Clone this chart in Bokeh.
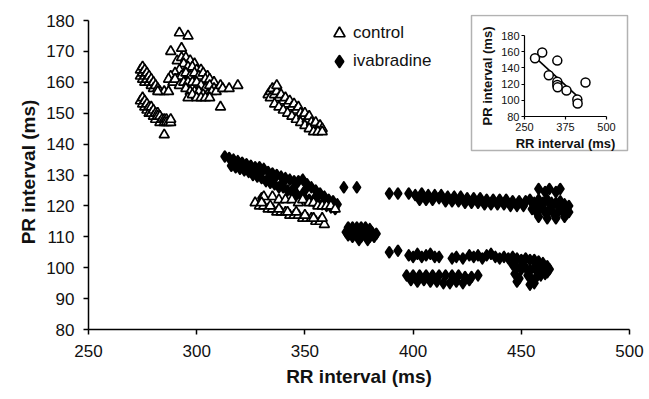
from bokeh.plotting import figure
from bokeh.models import Range1d, LinearAxis, FixedTicker, Legend, LegendItem, BoxAnnotation
from bokeh.embed import file_html
from bokeh.resources import INLINE

# ---------------- data (RR interval ms, PR interval ms) ----------------
control_a = [(274,164),(274,162),(275,165),(275,163),(275,161),(276,164),(276,162),(276,160),
             (277,163),(277,161),(278,162),(278,160),(279,161),(279,159),(280,160),(280,158),
             (281,159),(282,158),(283,157),(285,157),(287,157),(282,157)]
control_b = [(274,154),(275,155),(275,153),(276,154),(276,152),(277,153),(277,151),(278,152),
             (278,150),(279,152),(279,150),(280,151),(280,149),(281,150),(281,148),(282,150),
             (282,149),(283,149),(283,147),(284,148),(285,148),(285,147),(286,148),(286,147),
             (287,147),(288,147),(288,148),(285,143)]
control_c = [(292,176),(296,175),(288,170),(293,171),
             (291,167),(293,168),(295,168),(297,167),(299,166),(294,166),(296,165),(298,165),
             (300,164),(302,164),(292,164),(290,163),(288,162),(287,161),(289,160),(291,161),
             (293,162),(295,163),(297,162),(299,163),(301,162),(303,163),(305,162),(304,161),
             (306,161),(308,160),(290,161),(292,159),(294,160),(296,160),(298,160),(300,160),
             (302,159),(304,158),(306,159),(308,158),(310,158),(295,158),(297,157),(299,157),
             (301,157),(303,156),(305,156),(307,157),(309,157),(311,159),(296,155),(298,156),
             (300,155),(302,155),(304,155),(306,155),(312,158),(315,158),(319,159),(311,152)]
control_d = [(333,156),(334,157),(335,158),(334,155),(336,156),(337,157),(338,155),(336,153),
             (339,156),(340,154),(338,152),(341,155),(342,153),(340,151),(343,154),(344,152),
             (342,150),(345,153),(346,151),(344,149),(347,152),(348,150),(346,148),(349,149),
             (350,150),(348,147),(351,148),(352,149),(350,146),(353,147),(354,146),(352,145),
             (355,147),(356,145),(354,144),(357,146),(358,145),(356,144),(358,144),(337,159)]
control_e = [(335,123),(338,122),(341,122),(344,122),(347,121),(349,122),(352,121),(354,121),
             (356,120),(358,120),(360,120),(362,120),(364,119),
             (327,121),(329,120),(331,123),(331,120),(333,119),(335,119),(337,118),(339,118),
             (341,118),(343,117),(345,117),(347,117),(349,116),(351,116),(353,116),(355,115),
             (357,115),(359,114),(330,121),(334,120),(338,119),(342,118),(346,118),(350,117),
             (354,116),(358,116)]

ivabradine_a = [(313,136),(315,135.5),(317,135),(319,134.5),(321,134),(323,133.5),(325,133),
                (327,132.5),(329,132.5),(331,132),(333,131),(335,130.5),(337,130),(339,129.5),
                (341,129),(343,128.5),(345,128),(347,128),(349,128.5),(351,127),(353,126),
                (355,125),(357,124),(359,123),(361,122),(363,121.5),(365,120.5),
                (316,133),(318,132.5),(320,132),(322,131.5),(324,131),(326,130),(328,129.5),
                (330,129),(332,128),(334,127.5),(336,127),(338,126),(340,126),(342,125),
                (344,124.5),(346,124),(348,123),(350,122.5),(352,122),(354,121.5),(356,121),
                (358,120.5),(360,120),(362,119.5),(364,119),
                (320,133.5),(325,132),(330,131),(335,129),(340,127.5),(345,126),(350,125),
                (355,123),(360,121.5),(330,122.5)]
ivabradine_b = [(368,126),(374,126),
                (370,113),(372,113),(374,113),(376,113),(378,113),(380,112.5),(369,111.5),
                (371,111.5),(373,112),(375,112),(377,112),(379,111.5),(381,111.5),(383,111),
                (370,110.5),(372,110),(374,110.5),(376,110),(378,110.5),(380,110),(382,110),
                (375,109),(379,109)]
ivabradine_c = [(389,124),(393,124),
                (398,124),(401,123.5),(404,124),(407,123.5),(410,123.5),(413,123.5),(416,123),
                (419,123),(422,123),(425,122.5),(428,122.5),(431,122.5),(434,122),(437,122),
                (440,122),(443,122),(446,121.5),(449,121.5),(452,121.5),
                (403,122),(406,122),(409,122),(412,122.5),(415,121.5),(418,121.5),(421,121.5),
                (424,121),(427,121),(430,121),(433,120.5),(436,120.5),(439,120.5),(442,120.5),
                (445,120),(448,120),(451,120),
                (454,122),(456,121),(458,122),(460,121),(462,122),(464,121),(466,121),
                (468,121.5),(470,120.5),(472,120),(455,119),(457,118),(459,119.5),(461,118),
                (463,119),(465,117.5),(467,118),(469,118.5),(471,117.5),(458,116.5),(462,116),
                (466,116),(470,116.5),(472,118),(456,120),(460,120.5),(464,120),(468,120),
                (458,125.5),(461,124.5),(463,125.5),(466,124.5),(468,125.5)]
ivabradine_d = [(389,105),(393,105.5),
                (398,104),(400,103.5),(402,104.5),(404,103.5),(406,104),(408,104.5),(410,103.5),
                (412,103.5),(418,103),(420,103.5),(423,103),(426,104),(428,103.5),(430,104),
                (432,103),(434,104),(436,104.5),(438,103.5),(440,103),(442,103.5),(444,103),
                (446,103.5),(448,103),(450,102.5),(452,103),(454,102.5),(456,102.5),(458,102),
                (460,101.5),(462,100.5),(463,99.5),
                (446,101),(448,100),(450,99.5),(452,100),(454,99),(456,100),(458,99.5),(460,99),
                (462,98.5),(447,98),(449,96.5),(453,97.5),(455,96),(457,97),(459,97.5),(461,98),
                (448,95.5),(454,94.5),(456,95),(450,100.5),(458,101),(460,100.5)]
ivabradine_e = [(397,97.5),(400,97.5),(403,97.5),(406,97.5),(409,97.5),(412,97.5),(415,97.5),
                (418,97.5),(421,97.5),(424,97),(427,97),(430,97.5),
                (399,96),(402,95.5),(405,96),(408,95.5),(411,95.5),(414,95),(417,95),(420,95.5),
                (423,95),(426,96)]

inset_rr = [282, 304, 324, 350, 350, 350, 351, 378, 411, 412, 436]
inset_pr = [152, 159, 131, 149, 123, 119, 116, 112, 101, 96, 122]
fit_rr = [280, 425]
fit_pr = [154, 100]

x_ticks = [250, 300, 350, 400, 450, 500]
y_ticks = [80, 90, 100, 110, 120, 130, 140, 150, 160, 170, 180]
inset_x_ticks = [250, 375, 500]
inset_y_ticks = [80, 100, 120, 140, 160, 180]

control = control_a + control_b + control_c + control_d + control_e
ivabradine = ivabradine_a + ivabradine_b + ivabradine_c + ivabradine_d + ivabradine_e
control_rr = [p[0] for p in control]
control_pr = [p[1] for p in control]
ivab_rr = [p[0] for p in ivabradine]
ivab_pr = [p[1] for p in ivabradine]

# ---------------- layout (pixels) ----------------
W, H = 649, 399
FL, FR, FT, FB = 88, 629, 14, 329      # frame edges
Y180_PX = 20                           # pixel row of 180 ms on the main axis
IX_L, IX_R = 524, 606                  # inset x-axis pixel span (250..500)
IY_T, IY_B = 35, 116                   # inset y-axis pixel span (180..80)
BOX = (471, 627, 15, 150)              # inset box left, right, top, bottom (px)

xu = 250.0 / (FR - FL)
yu = 100.0 / (FB - Y180_PX)
y_top = 180 + (Y180_PX - FT) * yu

def px2x(px):
    return 250 + (px - FL) * xu

def px2y(py):
    return 180 - (py - Y180_PX) * yu

ixu = 250.0 / (IX_R - IX_L)
iyu = 100.0 / (IY_B - IY_T)
ix_range = Range1d(250 - (IX_L - FL) * ixu, 500 + (FR - IX_R) * ixu)
iy_range = Range1d(80 - (FB - IY_B) * iyu, 180 + (IY_T - FT) * iyu)

FONT = "Liberation Sans"

p = figure(width=W, height=H, output_backend="svg", toolbar_location=None,
           x_range=Range1d(250, 500), y_range=Range1d(80, y_top),
           x_axis_type=None, y_axis_type=None,
           min_border_left=FL, min_border_right=W - FR,
           min_border_top=FT, min_border_bottom=H - FB)
p.outline_line_color = None
p.xgrid.visible = False
p.ygrid.visible = False
p.background_fill_color = "white"
p.border_fill_color = "white"
p.extra_x_ranges = {"ix": ix_range}
p.extra_y_ranges = {"iy": iy_range}

def style_axis(ax, tick_size, label_size, tick_out, standoff, label_standoff, lw):
    ax.axis_line_color = "black"
    ax.axis_line_width = lw
    ax.major_tick_line_color = "black"
    ax.major_tick_line_width = lw
    ax.major_tick_out = tick_out
    ax.major_tick_in = 0
    ax.minor_tick_line_color = None
    ax.major_label_text_font = FONT
    ax.major_label_text_font_size = tick_size
    ax.major_label_text_color = "#111111"
    ax.major_label_standoff = standoff
    ax.axis_label_text_font = FONT
    ax.axis_label_text_font_size = label_size
    ax.axis_label_text_font_style = "bold"
    ax.axis_label_text_color = "#111111"
    ax.axis_label_standoff = label_standoff

xaxis = LinearAxis(ticker=FixedTicker(ticks=x_ticks, minor_ticks=[]), bounds=(250, 500),
                   axis_label="RR interval (ms)")
style_axis(xaxis, "17px", "19px", 5, 10, 6, 1.5)
p.add_layout(xaxis, "below")

yaxis = LinearAxis(ticker=FixedTicker(ticks=y_ticks, minor_ticks=[]), bounds=(80, 180),
                   axis_label="PR interval (ms)")
style_axis(yaxis, "17px", "19px", 5, 9, 4, 1.5)
p.add_layout(yaxis, "left")

# inset box
box = BoxAnnotation(left=px2x(BOX[0]), right=px2x(BOX[1]), top=px2y(BOX[2]), bottom=px2y(BOX[3]),
                    fill_color="white", fill_alpha=1.0, line_color="black", line_width=1.5,
                    level="underlay")
p.add_layout(box)

# main scatter
r_iva = p.scatter(ivab_rr, ivab_pr, marker="diamond", size=10, fill_color="black",
                  line_color="black", line_width=2.4, line_join="round")
r_ctrl = p.scatter(control_rr, control_pr, marker="triangle", size=10, fill_color="white",
                   line_color="black", line_width=1.7)

# inset content
p.line(fit_rr, fit_pr, x_range_name="ix", y_range_name="iy", line_color="black", line_width=1.6)
p.scatter(inset_rr, inset_pr, x_range_name="ix", y_range_name="iy", marker="circle", size=9,
          fill_color="white", line_color="black", line_width=1.5)

ixaxis = LinearAxis(x_range_name="ix", y_range_name="iy", fixed_location=80, bounds=(250, 500),
                    ticker=FixedTicker(ticks=inset_x_ticks, minor_ticks=[]),
                    axis_label="RR interval (ms)")
style_axis(ixaxis, "11px", "13px", 3, 3, 2, 1.2)
p.add_layout(ixaxis, "below")

iyaxis = LinearAxis(x_range_name="ix", y_range_name="iy", fixed_location=250, bounds=(80, 180),
                    ticker=FixedTicker(ticks=inset_y_ticks, minor_ticks=[]),
                    axis_label="PR interval (ms)")
style_axis(iyaxis, "11px", "13px", 3, 2, 3, 1.2)
p.add_layout(iyaxis, "left")

legend = Legend(items=[LegendItem(label="control", renderers=[r_ctrl]),
                       LegendItem(label="ivabradine", renderers=[r_iva])],
                location=(237, 254), glyph_width=28, glyph_height=28, spacing=-2,
                label_standoff=-4, padding=0, margin=0,
                label_text_font=FONT, label_text_font_size="17px",
                label_text_color="#111111", background_fill_alpha=0,
                border_line_color=None)
p.add_layout(legend)

open("out.html", "w").write(file_html(p, INLINE))
